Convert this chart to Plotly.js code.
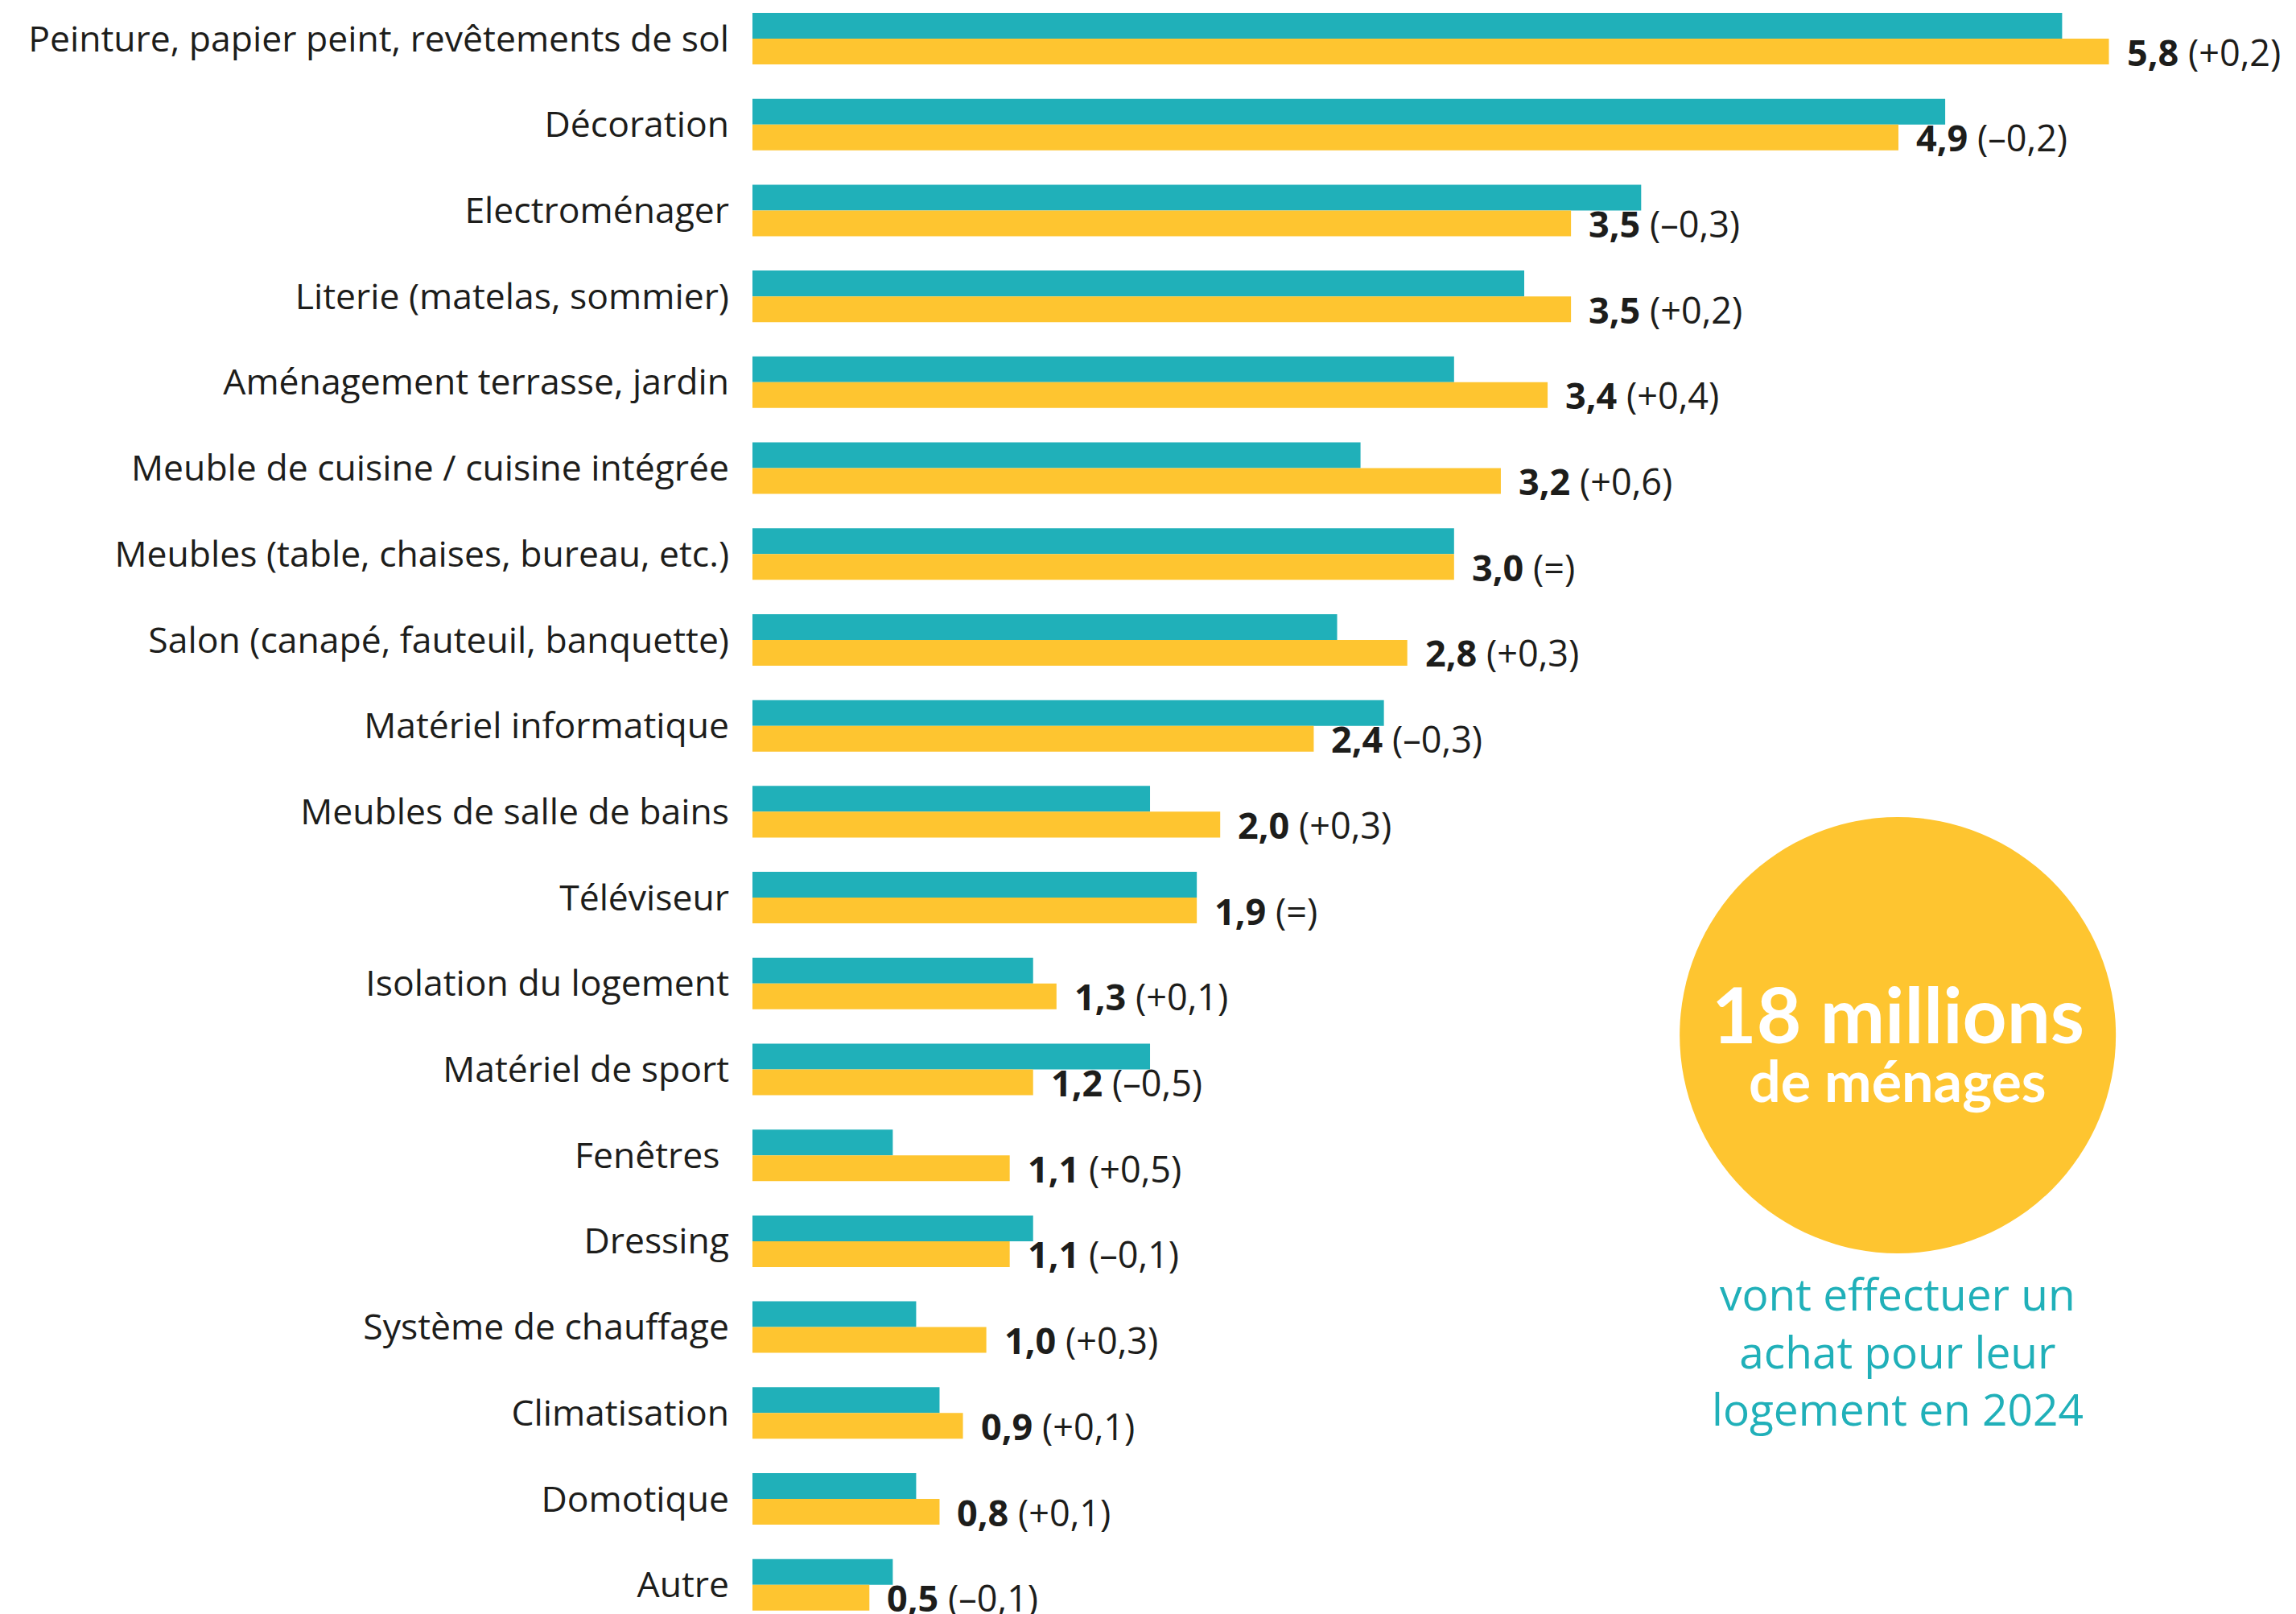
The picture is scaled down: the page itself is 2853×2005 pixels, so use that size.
<!DOCTYPE html>
<html>
<head>
<meta charset="utf-8">
<script src="https://cdn.plot.ly/plotly-3.0.1.min.js"></script>
<style>html,body{margin:0;padding:0;background:#fff;}#chart{width:2853px;height:2005px;}</style>
</head>
<body>
<div id="chart"></div>
<script>
const categories = [
  "Peinture, papier peint, revêtements de sol",
  "Décoration",
  "Electroménager",
  "Literie (matelas, sommier)",
  "Aménagement terrasse, jardin",
  "Meuble de cuisine / cuisine intégrée",
  "Meubles (table, chaises, bureau, etc.)",
  "Salon (canapé, fauteuil, banquette)",
  "Matériel informatique",
  "Meubles de salle de bains",
  "Téléviseur",
  "Isolation du logement",
  "Matériel de sport",
  "Fenêtres\u00a0",
  "Dressing",
  "Système de chauffage",
  "Climatisation",
  "Domotique",
  "Autre"
];
const previousYear = [5.6, 5.1, 3.8, 3.3, 3.0, 2.6, 3.0, 2.5, 2.7, 1.7, 1.9, 1.2, 1.7, 0.6, 1.2, 0.7, 0.8, 0.7, 0.6];
const currentYear  = [5.8, 4.9, 3.5, 3.5, 3.4, 3.2, 3.0, 2.8, 2.4, 2.0, 1.9, 1.3, 1.2, 1.1, 1.1, 1.0, 0.9, 0.8, 0.5];
const changes = ["+0,2", "–0,2", "–0,3", "+0,2", "+0,4", "+0,6", "=", "+0,3", "–0,3", "+0,3", "=", "+0,1", "–0,5", "+0,5", "–0,1", "+0,3", "+0,1", "+0,1", "–0,1"];
const calloutTitle = ["18 millions", "de ménages"];
const calloutLines = ["vont effectuer un", "achat pour leur", "logement en 2024"];

const TEAL = "#20b0b9";
const YELLOW = "#fec530";
const DARK = "#1d1d1b";
const FONT = "Open Sans";

const traces = [
  {type: "bar", orientation: "h", y: categories, x: previousYear,
   marker: {color: TEAL}, hoverinfo: "skip"},
  {type: "bar", orientation: "h", y: categories, x: currentYear,
   marker: {color: YELLOW}, hoverinfo: "skip"}
];

const annotations = categories.map((c, i) => ({
  x: currentYear[i], y: c, xref: "x", yref: "y",
  text: "<b>" + currentYear[i].toFixed(1).replace(".", ",") + "</b> (" + changes[i] + ")",
  showarrow: false, xanchor: "left", yanchor: "middle",
  xshift: 20, yshift: -16,
  font: {family: FONT, size: 45, color: DARK}
}));

annotations.push(
  {xref: "paper", yref: "paper", x: 0.742, y: 1 - 1258/2005, text: "<b>" + calloutTitle[0] + "</b>",
   showarrow: false, xanchor: "center", yanchor: "middle", borderpad: 0,
   font: {family: "Lato", size: 96, color: "#ffffff", weight: 900}},
  {xref: "paper", yref: "paper", x: 0.742, y: 1 - 1342/2005, text: "<b>" + calloutTitle[1] + "</b>",
   showarrow: false, xanchor: "center", yanchor: "middle", borderpad: 0,
   font: {family: "Lato", size: 70, color: "#ffffff", weight: 900}},
  {xref: "paper", yref: "paper", x: 0.742, y: 1 - 1678/2005, text: calloutLines.join("<br>"),
   showarrow: false, xanchor: "center", yanchor: "middle", align: "center",
   font: {family: FONT, size: 55, color: TEAL}}
);

const layout = {
  width: 2853, height: 2005,
  margin: {l: 935, r: 0, t: 0, b: 0},
  paper_bgcolor: "#ffffff", plot_bgcolor: "#ffffff",
  barmode: "group", bargap: 0.4, bargroupgap: 0,
  showlegend: false,
  xaxis: {range: [0, 6.6], showgrid: false, zeroline: false, showticklabels: false, showline: false, fixedrange: true},
  yaxis: {type: "category", range: [18.34, -0.45], showgrid: false, zeroline: false, showline: false,
          ticks: "", ticklabelstandoff: 28,
          tickfont: {family: FONT, size: 44.5, color: DARK}, fixedrange: true},
  shapes: [{
    type: "circle", xref: "paper", yref: "paper",
    xsizemode: "pixel", ysizemode: "pixel",
    xanchor: 0.742, yanchor: 1 - 1286/2005,
    x0: -271, x1: 271, y0: -271, y1: 271,
    fillcolor: YELLOW, line: {width: 0}, layer: "below"
  }],
  annotations: annotations
};

Plotly.newPlot("chart", traces, layout, {displayModeBar: false, staticPlot: true});
</script>
</body>
</html>
